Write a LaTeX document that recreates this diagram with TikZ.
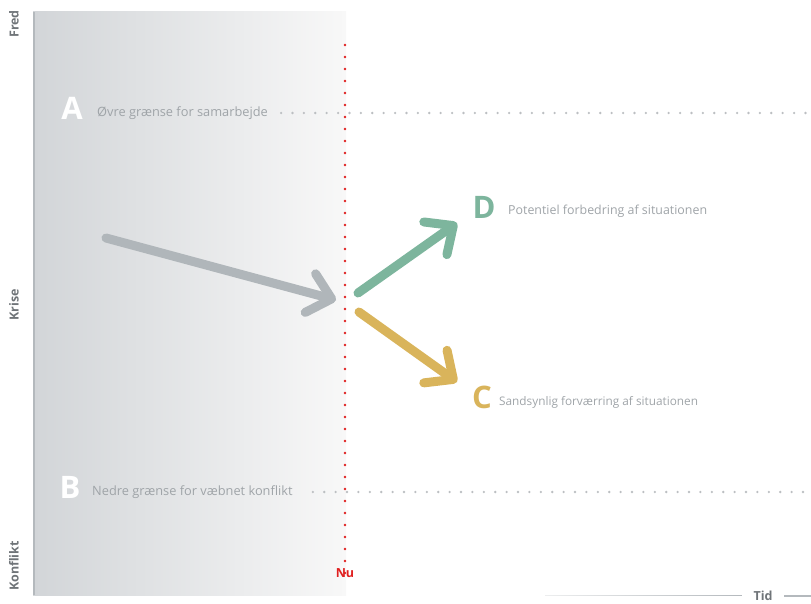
\documentclass[tikz,border=0pt]{standalone}
\usepackage{fontspec}
\setmainfont{Open Sans}
\usetikzlibrary{arrows.meta,positioning}
\definecolor{paneldark}{HTML}{D2D5D8}
\definecolor{panellight}{HTML}{F8F8F8}
\definecolor{edgegray}{HTML}{B4B9BD}
\definecolor{textgray}{HTML}{9FA4A8}
\definecolor{axisgray}{HTML}{6F7478}
\definecolor{nured}{HTML}{E02020}
\definecolor{trendgray}{HTML}{B0B6BA}
\definecolor{bettergreen}{HTML}{7DB59D}
\definecolor{worseyellow}{HTML}{D9B45B}
\tikzset{
  axislabel/.style={rotate=90, text=axisgray, font=\bfseries\fontsize{12.5}{14}\selectfont},
  bigletter/.style={font=\bfseries\fontsize{31}{33}\selectfont, inner sep=0pt},
  boundtext/.style={text=textgray, font=\fontsize{12.8}{15}\selectfont, inner sep=0pt, anchor=west},
  bounddots/.style={draw=textgray!70, line width=2.6pt, line cap=round, dash pattern=on 0pt off 11.4pt},
  trend/.style={line width=9pt, line cap=round, -{Straight Barb[length=22pt,width=40pt,round]}},
}
\begin{document}
\begin{tikzpicture}[x=1pt,y=-1pt]
\useasboundingbox (0,0) rectangle (811,604);
\clip (0,0) rectangle (811,604);
% background panel
\shade[left color=paneldark, right color=panellight] (33,12) rectangle (346,595);
\draw[edgegray, line width=1.6pt] (33.8,12) -- (33.8,595);
% axis labels
\node[axislabel] (fred) at (14,24) {Fred};
\node[axislabel] (krise) at (14,305) {Krise};
\node[axislabel] (konflikt) at (14,566) {Konflikt};
% bounds
\node[bigletter, text=white] (A) at (72,108) {A};
\node[boundtext] (Atext) at (97,113) {Øvre grænse for samarbejde};
\coordinate (Aend) at (815,113);
\draw[bounddots] ([xshift=13pt]Atext.east) -- (Aend);
\node[bigletter, text=white] (B) at (70,487) {B};
\node[boundtext] (Btext) at (92,492) {Nedre grænse for væbnet konflikt};
\coordinate (Bend) at (815,492);
\draw[bounddots] ([xshift=20pt]Btext.east) -- (Bend);
% now
\node[text=nured, font=\bfseries\fontsize{12.5}{14}\selectfont] (nu) at (345,573) {Nu};
\coordinate (nutop) at (345,45);
\draw[nured, line width=2.8pt, line cap=round, dash pattern=on 0pt off 12pt] (nutop) -- ([yshift=-14pt]nu.north);
% trends
\coordinate (start) at (106,238);
\coordinate (nowpt) at (336,300);
\coordinate (upstart) at (358,293);
\coordinate (uptip) at (457,223);
\coordinate (downstart) at (359,312);
\coordinate (downtip) at (457,382);
\draw[trend, trendgray] (start) -- (nowpt);
\draw[trend, bettergreen] (upstart) -- (uptip);
\draw[trend, worseyellow] (downstart) -- (downtip);
% outcomes
\node[bigletter, text=bettergreen] (D) at (484,207) {D};
\node[boundtext, font=\fontsize{12.4}{15}\selectfont] (Dtext) at (508,211) {Potentiel forbedring af situationen};
\node[bigletter, text=worseyellow] (C) at (482,397) {C};
\node[boundtext, font=\fontsize{11.8}{14}\selectfont] (Ctext) at (499,402) {Sandsynlig forværring af situationen};
% time axis
\node[text=axisgray, font=\bfseries\fontsize{12.5}{14}\selectfont] (tid) at (763,596) {Tid};
\coordinate (axstart) at (545,596);
\coordinate (axend) at (830,596);
\shade[left color=edgegray!25, right color=edgegray] (axstart) ++(0,-0.7) rectangle ([xshift=-8pt,yshift=0.7pt]tid.west);
\draw[edgegray, line width=1.4pt, -{Stealth[length=8pt]}] ([xshift=8pt]tid.east) -- (axend);
\end{tikzpicture}
\end{document}
